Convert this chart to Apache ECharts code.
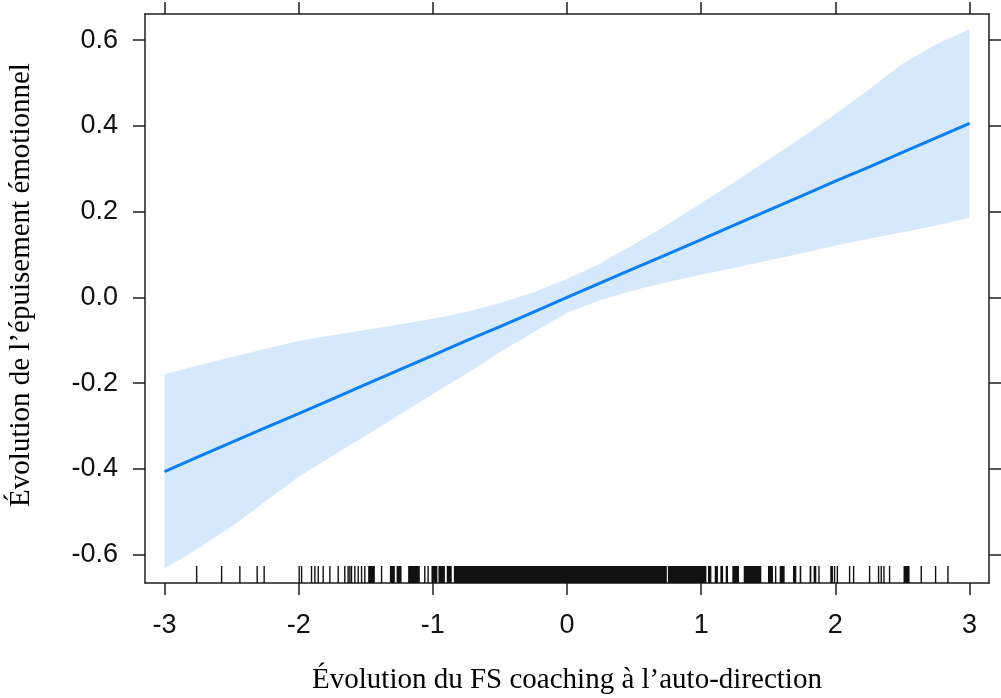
<!DOCTYPE html>
<html><head><meta charset="utf-8">
<script src="https://cdn.jsdelivr.net/npm/echarts@6/dist/echarts.min.js"></script>
<style>html,body{margin:0;padding:0;background:#fff}#c{width:1001px;height:698px}</style>
</head><body><div id="c"></div>
<script>
// ---- data ----
const xGrid = [-3, -2.75, -2.5, -2.25, -2, -1.75, -1.5, -1.25, -1, -0.75, -0.5, -0.25, 0, 0.25, 0.5, 0.75, 1, 1.25, 1.5, 1.75, 2, 2.25, 2.5, 2.75, 3];
const fitValues = [-0.406, -0.372, -0.338, -0.304, -0.271, -0.237, -0.203, -0.169, -0.135, -0.101, -0.068, -0.034, 0.000, 0.034, 0.068, 0.101, 0.135, 0.169, 0.203, 0.237, 0.271, 0.304, 0.338, 0.372, 0.406];
const upperValues = [-0.179, -0.159, -0.139, -0.120, -0.101, -0.088, -0.076, -0.063, -0.050, -0.034, -0.013, 0.012, 0.043, 0.080, 0.124, 0.170, 0.220, 0.270, 0.321, 0.373, 0.428, 0.485, 0.545, 0.590, 0.626];
const lowerValues = [-0.633, -0.585, -0.535, -0.476, -0.418, -0.370, -0.322, -0.274, -0.225, -0.178, -0.128, -0.081, -0.036, -0.006, 0.017, 0.036, 0.053, 0.069, 0.086, 0.103, 0.121, 0.137, 0.152, 0.168, 0.186];
// rug: observed x values (single ticks) and dense runs [from, to]
const rugSegments = [
  [-2.760, -2.760], [-2.574, -2.574], [-2.438, -2.438], [-2.309, -2.309], [-2.257, -2.257],
  [-1.996, -1.996], [-1.978, -1.978], [-1.904, -1.904], [-1.879, -1.879], [-1.854, -1.854],
  [-1.817, -1.817], [-1.767, -1.767], [-1.705, -1.705], [-1.656, -1.656], [-1.631, -1.631],
  [-1.618, -1.618], [-1.606, -1.606], [-1.581, -1.581], [-1.556, -1.556], [-1.531, -1.531],
  [-1.507, -1.507], [-1.482, -1.432], [-1.382, -1.382], [-1.320, -1.283], [-1.270, -1.233],
  [-1.184, -1.097], [-1.060, -1.060], [-1.035, -1.035], [-1.010, -0.966], [-0.958, -0.910],
  [-0.896, -0.859], [-0.843, 0.744], [0.752, 1.039], [1.051, 1.076], [1.101, 1.125],
  [1.143, 1.163], [1.183, 1.200], [1.232, 1.282], [1.317, 1.448], [1.498, 1.535],
  [1.555, 1.565], [1.585, 1.622], [1.684, 1.709], [1.734, 1.746], [1.808, 1.821],
  [1.838, 1.858], [1.878, 1.888], [1.962, 1.982], [1.994, 1.994], [2.015, 2.015],
  [2.106, 2.106], [2.136, 2.136], [2.255, 2.255], [2.322, 2.322], [2.342, 2.342],
  [2.362, 2.362], [2.404, 2.404], [2.508, 2.553], [2.640, 2.640], [2.747, 2.747], [2.839, 2.839]
];
const xTickValues = [-3, -2, -1, 0, 1, 2, 3];
const yTickValues = [-0.6, -0.4, -0.2, 0, 0.2, 0.4, 0.6];
const xTitle = 'Évolution du FS coaching à l’auto-direction';
const yTitle = 'Évolution de l’épuisement émotionnel';

const X_MIN = -3.145, X_MAX = 3.145, Y_MIN = -0.666, Y_MAX = 0.661;
const FRAME = '#1e1e1e';
const LABEL_FONT = '"Liberation Sans", Arial, sans-serif';
const TITLE_FONT = '"Liberation Serif", "Times New Roman", serif';

const chart = echarts.init(document.getElementById('c'), null, {renderer: 'canvas'});

function xAxisDef(pos, showLabels) {
  return {
    type: 'value', position: pos, min: X_MIN, max: X_MAX,
    axisLine: {show: true, onZero: false, lineStyle: {color: FRAME, width: 1.5}},
    axisTick: {show: true, customValues: xTickValues, length: 12, inside: false, lineStyle: {color: FRAME, width: 1.5}},
    axisLabel: {show: showLabels, customValues: xTickValues, margin: 29, fontSize: 27, color: '#111',
      fontFamily: LABEL_FONT, formatter: v => String(Math.round(v))},
    splitLine: {show: false}
  };
}
function yAxisDef(pos, showLabels) {
  return {
    type: 'value', position: pos, min: Y_MIN, max: Y_MAX,
    axisLine: {show: true, onZero: false, lineStyle: {color: FRAME, width: 1.5}},
    axisTick: {show: true, customValues: yTickValues, length: 12, inside: false, lineStyle: {color: FRAME, width: 1.5}},
    axisLabel: {show: showLabels, customValues: yTickValues, margin: 27, fontSize: 27, color: '#111',
      fontFamily: LABEL_FONT, formatter: v => (Math.abs(v) < 1e-9 ? 0 : v).toFixed(1)},
    splitLine: {show: false}
  };
}

const option = {
  animation: false,
  backgroundColor: '#fff',
  grid: {left: 145, top: 14, right: 12, bottom: 115, containLabel: false},
  xAxis: [xAxisDef('bottom', true), xAxisDef('top', false)],
  yAxis: [yAxisDef('left', true), yAxisDef('right', false)],
  graphic: [
    {type: 'text', x: 567, y: 680, silent: true,
      style: {text: xTitle, font: '29px ' + TITLE_FONT, fill: '#000', textAlign: 'center', textVerticalAlign: 'middle', align: 'center', verticalAlign: 'middle'}},
    {type: 'text', x: 21, y: 285, rotation: Math.PI / 2, silent: true,
      style: {text: yTitle, font: '29px ' + TITLE_FONT, fill: '#000', textAlign: 'center', textVerticalAlign: 'middle', align: 'center', verticalAlign: 'middle'}}
  ],
  series: [
    {
      type: 'custom', name: 'band', silent: true, z: 1, clip: true,
      data: xGrid.map((x, i) => [x, lowerValues[i], upperValues[i]]),
      encode: {x: 0, y: [1, 2]},
      renderItem: (params, api) => {
        if (params.dataIndex !== 0) return null;
        const pts = [];
        for (let i = 0; i < xGrid.length; i++) pts.push(api.coord([xGrid[i], upperValues[i]]));
        for (let i = xGrid.length - 1; i >= 0; i--) pts.push(api.coord([xGrid[i], lowerValues[i]]));
        return {type: 'polygon', shape: {points: pts}, style: {fill: '#d6e8fc'}};
      }
    },
    {
      type: 'line', name: 'fit', z: 3, showSymbol: false, silent: true,
      data: xGrid.map((x, i) => [x, fitValues[i]]),
      lineStyle: {color: '#0a7ff5', width: 3}
    },
    {
      type: 'custom', name: 'rug', silent: true, z: 2,
      data: rugSegments,
      encode: {x: [0, 1]},
      renderItem: (params, api) => {
        const a = api.coord([api.value(0), Y_MIN]);
        const b = api.coord([api.value(1), Y_MIN]);
        let w = b[0] - a[0], x0 = a[0];
        if (w < 1.4) { x0 = a[0] - 0.7; w = 1.4; }
        return {type: 'rect', shape: {x: x0, y: a[1] - 17, width: w, height: 17}, style: {fill: '#111'}};
      }
    }
  ]
};
chart.setOption(option);
</script>
</body></html>
